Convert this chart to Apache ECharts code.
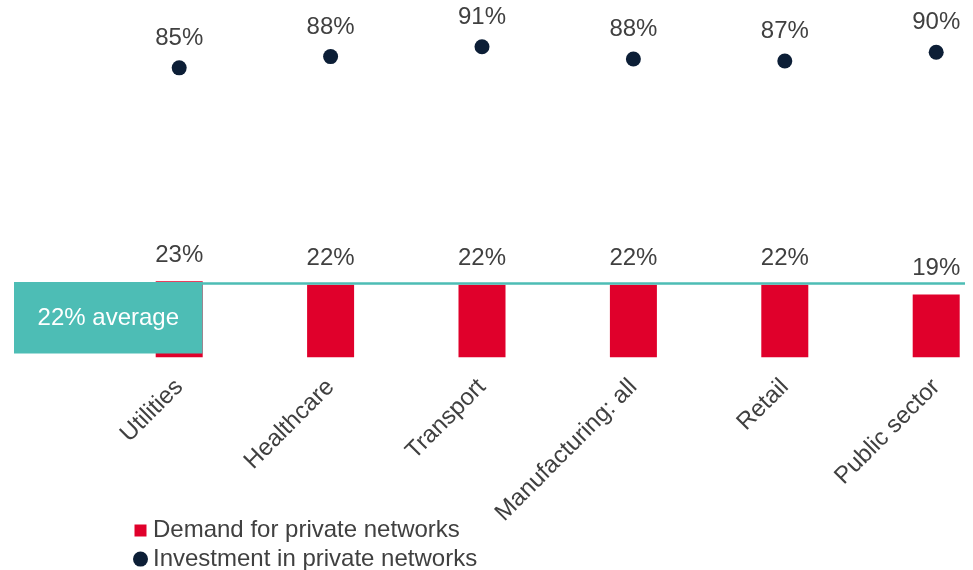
<!DOCTYPE html>
<html><head><meta charset="utf-8">
<script src="https://cdn.jsdelivr.net/npm/echarts@6/dist/echarts.min.js"></script>
<style>html,body{margin:0;padding:0;background:#fff}#chart{width:973px;height:570px}</style>
</head><body><div id="chart"></div>
<script>
const categories = ['Utilities', 'Healthcare', 'Transport', 'Manufacturing: all', 'Retail', 'Public sector'];
const demand = [23, 22, 22, 22, 22, 19];
const investment = [85.0, 88.3, 91.2, 87.6, 87.0, 89.6];
const averageDemand = 22.4;
const averageLabel = '22% average';
const seriesNames = ['Demand for private networks', 'Investment in private networks'];

const FONT = '"Liberation Sans", Arial, sans-serif';
const TXT = '#404040';
const RED = '#e0002b';
const NAVY = '#0c1e36';
const TEAL = '#4dbdb5';
const FS = 24;

const pct = p => {
  const v = Array.isArray(p.value) ? p.value[1] : p.value;
  return Math.round(v) + '%';
};

const chart = echarts.init(document.getElementById('chart'), null, {renderer: 'canvas'});
chart.setOption({
  animation: false,
  backgroundColor: '#ffffff',
  textStyle: {fontFamily: FONT},
  grid: {left: 103.5, top: 27, width: 908.4, height: 330.3, containLabel: false, outerBoundsMode: 'none'},
  legend: {
    orient: 'vertical',
    left: 133,
    top: 518.5,
    height: 60,
    padding: 0,
    itemWidth: 15,
    itemHeight: 15,
    itemGap: 4.6,
    textStyle: {fontSize: FS, lineHeight: 24, color: TXT, fontFamily: FONT},
    data: [
      {name: seriesNames[0], icon: 'path://M0,0 M15,15 M1.5,1.5 L13.5,1.5 L13.5,13.5 L1.5,13.5 Z'},
      {name: seriesNames[1], icon: 'circle'}
    ]
  },
  xAxis: {
    type: 'category',
    data: categories,
    boundaryGap: true,
    axisLine: {show: false},
    axisTick: {show: false},
    splitLine: {show: false},
    axisLabel: {
      interval: 0,
      rotate: 45,
      margin: 26,
      fontSize: FS,
      color: TXT,
      fontFamily: FONT
    }
  },
  yAxis: [
    {type: 'value', min: 0, max: 100, show: false, splitLine: {show: false}},
    {type: 'value', min: 0, max: 97, show: false, splitLine: {show: false}}
  ],
  series: [
    {
      name: seriesNames[0],
      type: 'bar',
      data: demand,
      yAxisIndex: 0,
      barWidth: 47,
      itemStyle: {color: RED},
      label: {
        show: true,
        position: 'top',
        distance: 14,
        fontSize: FS,
        color: TXT,
        fontFamily: FONT,
        formatter: pct
      },
      markLine: {
        silent: true,
        symbol: 'none',
        lineStyle: {color: TEAL, width: 2.5, type: 'solid'},
        label: {show: false},
        emphasis: {disabled: true},
        data: [[
          {xAxis: 0, x: 150, yAxis: averageDemand},
          {xAxis: 5, x: 965, yAxis: averageDemand}
        ]]
      }
    },
    {
      name: seriesNames[1],
      type: 'scatter',
      data: investment,
      yAxisIndex: 1,
      symbol: 'circle',
      symbolSize: 15,
      itemStyle: {color: NAVY, opacity: 1},
      label: {
        show: true,
        position: 'top',
        distance: 10,
        fontSize: FS,
        color: TXT,
        fontFamily: FONT,
        formatter: pct
      }
    }
  ],
  graphic: [
    {type: 'rect', z: 100, x: 14, y: 282, shape: {x: 0, y: 0, width: 188.5, height: 71.5}, style: {fill: TEAL}},
    {type: 'text', z: 101, x: 108.3, y: 318, style: {text: averageLabel, fill: '#ffffff', fontSize: FS, fontFamily: FONT, align: 'center', verticalAlign: 'middle'}}
  ]
});
</script>
</body></html>
